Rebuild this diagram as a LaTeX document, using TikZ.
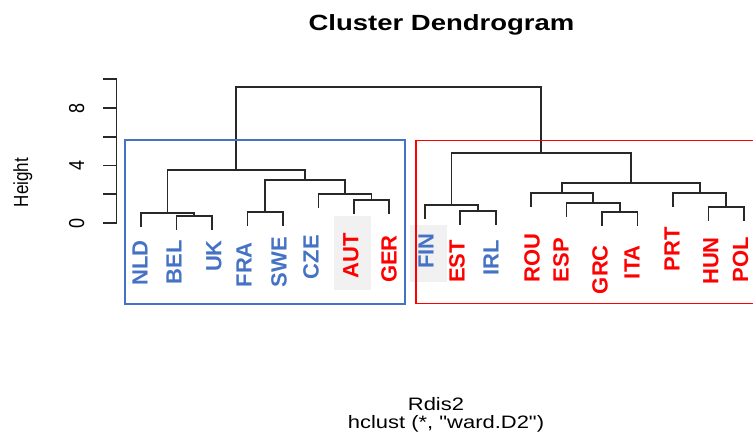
\documentclass[tikz,border=0pt]{standalone}
\usepackage{fontspec}
\setmainfont{Liberation Sans}
\newfontfamily\rawsans{Liberation Sans}[Ligatures=TeXOff]
\usepackage{graphicx}
\definecolor{grpblue}{RGB}{68,114,196}
\definecolor{grpred}{RGB}{255,0,0}
\definecolor{hilite}{RGB}{241,241,241}
\definecolor{treeline}{RGB}{40,40,40}
\tikzset{
  branch/.style={draw=treeline, line width=1.7bp, line cap=rect},
  axisline/.style={draw=treeline, line width=1.6bp},
  leaflabel/.style={rotate=90, anchor=east, inner sep=0pt,
    font=\fontsize{22bp}{26bp}\selectfont\bfseries},
  bluelab/.style={leaflabel, text=grpblue},
  redlab/.style={leaflabel, text=grpred},
  ticklab/.style={rotate=90, anchor=base, inner sep=0pt,
    font=\fontsize{18bp}{22bp}\selectfont},
  plaintext/.style={anchor=base, inner sep=0pt,
    font=\fontsize{18bp}{22bp}\selectfont},
  groupbox/.style={line width=1.2bp},
}
\begin{document}
\begin{tikzpicture}[x=1bp, y=-1bp]
\useasboundingbox (0,0) rectangle (753,442);
\fill[white] (0,0) rectangle (753,442);

% highlighted label backgrounds
\fill[hilite] (334,216) rectangle (371,290);
\fill[hilite] (410,225) rectangle (447,282);

% title and captions
\node[anchor=base, inner sep=0pt, font=\fontsize{22bp}{26bp}\selectfont\bfseries]
  (title) at (441.5,30.5) {\scalebox{1.25}[1]{Cluster Dendrogram}};
\node[plaintext] (xlab) at (436,410) {\scalebox{1.22}[1]{Rdis2}};
\node[plaintext] (sub) at (446,428.5)
  {\scalebox{1.22}[1]{\rawsans hclust (*, "ward.D2")}};
\node[rotate=90, anchor=base, inner sep=0pt, font=\fontsize{17bp}{21bp}\selectfont]
  (ylab) at (28,182.5) {\scalebox{1}[1.2]{Height}};

% height axis
\coordinate (axtop) at (116.5,79.25);
\coordinate (axbot) at (116.5,223);
\draw[axisline] (axtop) -- (axbot);
\foreach \k/\yy in {0/223,1/194.25,2/165.5,3/136.75,4/108,5/79.25}{
  \coordinate (tk\k) at (116.5,\yy);
  \coordinate (tkend\k) at (103,\yy);
  \draw[axisline] (tk\k) -- (tkend\k);
}
\node[ticklab] (v0) at (84,223) {\scalebox{1}[1.2]{0}};
\node[ticklab] (v4) at (84,165.5) {\scalebox{1}[1.2]{4}};
\node[ticklab] (v8) at (84,108) {\scalebox{1}[1.2]{8}};

% leaf tips
\coordinate (NLD) at (141,226.3);
\coordinate (BEL) at (176.5,229);
\coordinate (UK)  at (211.9,229);
\coordinate (FRA) at (247.4,225);
\coordinate (SWE) at (282.9,225);
\coordinate (CZE) at (318.4,207);
\coordinate (AUT) at (353.8,213);
\coordinate (GER) at (389.3,213);
\coordinate (FIN) at (424.8,218);
\coordinate (EST) at (460.2,223.7);
\coordinate (IRL) at (495.7,223.7);
\coordinate (ROU) at (531.2,206.3);
\coordinate (ESP) at (566.6,216.3);
\coordinate (GRC) at (602.1,224.7);
\coordinate (ITA) at (637.6,224.7);
\coordinate (PRT) at (673.1,206.3);
\coordinate (HUN) at (708.5,220.3);
\coordinate (POL) at (744,220.3);

% merge points
\coordinate (ma) at (194.2,216);
\coordinate (mb) at (167.6,213.3);
\coordinate (mc) at (265.15,212);
\coordinate (md) at (371.55,200);
\coordinate (me) at (345,194);
\coordinate (mf) at (305.1,180);
\coordinate (mg) at (236.3,170);
\coordinate (mh) at (477.95,210.7);
\coordinate (mi) at (451.4,205);
\coordinate (mj) at (619.85,211.7);
\coordinate (mk) at (593.2,203.3);
\coordinate (ml) at (562.2,193.3);
\coordinate (mm) at (726.25,207.3);
\coordinate (mn) at (699.7,193.3);
\coordinate (mo) at (630.9,182.7);
\coordinate (mp) at (541.2,153.3);
\coordinate (mq) at (388.7,86.7);

% branches: left child up, across, down to right child
\foreach \l/\m/\r in {BEL/ma/UK, NLD/mb/ma, FRA/mc/SWE, AUT/md/GER, CZE/me/md,
  mc/mf/me, mb/mg/mf, EST/mh/IRL, FIN/mi/mh, GRC/mj/ITA, ESP/mk/mj, ROU/ml/mk,
  HUN/mm/POL, PRT/mn/mm, ml/mo/mn, mi/mp/mo, mg/mq/mp}{
  \draw[branch] (\l) |- (\m) -| (\r);
}

% leaf labels
\node[bluelab] (tNLD) at (140,240) {NLD};
\node[bluelab] (tBEL) at (174,240) {BEL};
\node[bluelab] (tUK)  at (214,240) {UK};
\node[bluelab] (tFRA) at (244,242) {FRA};
\node[bluelab] (tSWE) at (279,237) {SWE};
\node[bluelab] (tCZE) at (311,235) {CZE};
\node[redlab]  (tAUT) at (351,233) {AUT};
\node[redlab]  (tGER) at (389,235) {GER};
\node[bluelab] (tFIN) at (426,233) {FIN};
\node[redlab]  (tEST) at (457,240) {EST};
\node[bluelab] (tIRL) at (491,240) {IRL};
\node[redlab]  (tROU) at (532,233) {ROU};
\node[redlab]  (tESP) at (561,238) {ESP};
\node[redlab]  (tGRC) at (600,245) {GRC};
\node[redlab]  (tITA) at (632,245) {ITA};
\node[redlab]  (tPRT) at (672,227) {PRT};
\node[redlab]  (tHUN) at (711,237) {HUN};
\node[redlab]  (tPOL) at (740.5,237) {POL};

% group frames
\draw[groupbox, grpblue] (125,140) rectangle (405,304);
\draw[groupbox, grpred] (416,140.5) rectangle (770,303.5);
\end{tikzpicture}
\end{document}
